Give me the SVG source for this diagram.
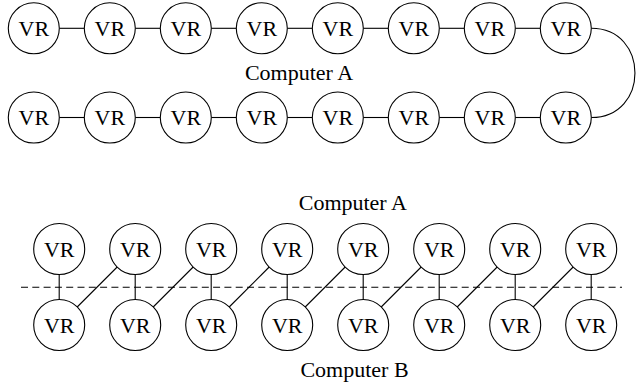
<svg xmlns="http://www.w3.org/2000/svg" width="637" height="385" viewBox="0 0 637 385">
<style>
.n circle{fill:#fff;stroke:#000;stroke-width:1.1}
.c line,.c path{stroke:#000;stroke-width:1.1;fill:none}
</style>
<rect width="637" height="385" fill="#fff"/>
<g id="connectors" class="c">
<line x1="59.3" y1="28.3" x2="84.3" y2="28.3"/>
<line x1="135.3" y1="28.3" x2="160.3" y2="28.3"/>
<line x1="211.3" y1="28.3" x2="236.3" y2="28.3"/>
<line x1="287.3" y1="28.3" x2="312.3" y2="28.3"/>
<line x1="363.3" y1="28.3" x2="388.3" y2="28.3"/>
<line x1="439.3" y1="28.3" x2="464.3" y2="28.3"/>
<line x1="515.3" y1="28.3" x2="540.3" y2="28.3"/>
<line x1="59.3" y1="117.5" x2="84.3" y2="117.5"/>
<line x1="135.3" y1="117.5" x2="160.3" y2="117.5"/>
<line x1="211.3" y1="117.5" x2="236.3" y2="117.5"/>
<line x1="287.3" y1="117.5" x2="312.3" y2="117.5"/>
<line x1="363.3" y1="117.5" x2="388.3" y2="117.5"/>
<line x1="439.3" y1="117.5" x2="464.3" y2="117.5"/>
<line x1="515.3" y1="117.5" x2="540.3" y2="117.5"/>
<path d="M591.3 28.3 C649.5 28.3 649.5 117.5 591.3 117.5"/>
<line x1="21" y1="287.3" x2="622" y2="287.3" stroke-dasharray="7 4.3"/>
<line x1="59.2" y1="274.5" x2="59.2" y2="299.5"/>
<line x1="135.2" y1="274.5" x2="135.2" y2="299.5"/>
<line x1="211.2" y1="274.5" x2="211.2" y2="299.5"/>
<line x1="287.2" y1="274.5" x2="287.2" y2="299.5"/>
<line x1="363.2" y1="274.5" x2="363.2" y2="299.5"/>
<line x1="439.2" y1="274.5" x2="439.2" y2="299.5"/>
<line x1="515.2" y1="274.5" x2="515.2" y2="299.5"/>
<line x1="591.2" y1="274.5" x2="591.2" y2="299.5"/>
<line x1="77.2" y1="307" x2="117.2" y2="267"/>
<line x1="153.2" y1="307" x2="193.2" y2="267"/>
<line x1="229.2" y1="307" x2="269.2" y2="267"/>
<line x1="305.2" y1="307" x2="345.2" y2="267"/>
<line x1="381.2" y1="307" x2="421.2" y2="267"/>
<line x1="457.2" y1="307" x2="497.2" y2="267"/>
<line x1="533.2" y1="307" x2="573.2" y2="267"/>
</g>
<g font-family="Liberation Serif" font-size="22" text-anchor="middle" fill="#000">
<g id="a1" class="n"><circle cx="33.8" cy="28.3" r="25.5"/><text x="33.8" y="35.8">VR</text></g>
<g id="a2" class="n"><circle cx="109.8" cy="28.3" r="25.5"/><text x="109.8" y="35.8">VR</text></g>
<g id="a3" class="n"><circle cx="185.8" cy="28.3" r="25.5"/><text x="185.8" y="35.8">VR</text></g>
<g id="a4" class="n"><circle cx="261.8" cy="28.3" r="25.5"/><text x="261.8" y="35.8">VR</text></g>
<g id="a5" class="n"><circle cx="337.8" cy="28.3" r="25.5"/><text x="337.8" y="35.8">VR</text></g>
<g id="a6" class="n"><circle cx="413.8" cy="28.3" r="25.5"/><text x="413.8" y="35.8">VR</text></g>
<g id="a7" class="n"><circle cx="489.8" cy="28.3" r="25.5"/><text x="489.8" y="35.8">VR</text></g>
<g id="a8" class="n"><circle cx="565.8" cy="28.3" r="25.5"/><text x="565.8" y="35.8">VR</text></g>
<g id="b1" class="n"><circle cx="33.8" cy="117.5" r="25.5"/><text x="33.8" y="125">VR</text></g>
<g id="b2" class="n"><circle cx="109.8" cy="117.5" r="25.5"/><text x="109.8" y="125">VR</text></g>
<g id="b3" class="n"><circle cx="185.8" cy="117.5" r="25.5"/><text x="185.8" y="125">VR</text></g>
<g id="b4" class="n"><circle cx="261.8" cy="117.5" r="25.5"/><text x="261.8" y="125">VR</text></g>
<g id="b5" class="n"><circle cx="337.8" cy="117.5" r="25.5"/><text x="337.8" y="125">VR</text></g>
<g id="b6" class="n"><circle cx="413.8" cy="117.5" r="25.5"/><text x="413.8" y="125">VR</text></g>
<g id="b7" class="n"><circle cx="489.8" cy="117.5" r="25.5"/><text x="489.8" y="125">VR</text></g>
<g id="b8" class="n"><circle cx="565.8" cy="117.5" r="25.5"/><text x="565.8" y="125">VR</text></g>
<g id="c1" class="n"><circle cx="59.2" cy="249" r="25.5"/><text x="59.2" y="256.5">VR</text></g>
<g id="c2" class="n"><circle cx="135.2" cy="249" r="25.5"/><text x="135.2" y="256.5">VR</text></g>
<g id="c3" class="n"><circle cx="211.2" cy="249" r="25.5"/><text x="211.2" y="256.5">VR</text></g>
<g id="c4" class="n"><circle cx="287.2" cy="249" r="25.5"/><text x="287.2" y="256.5">VR</text></g>
<g id="c5" class="n"><circle cx="363.2" cy="249" r="25.5"/><text x="363.2" y="256.5">VR</text></g>
<g id="c6" class="n"><circle cx="439.2" cy="249" r="25.5"/><text x="439.2" y="256.5">VR</text></g>
<g id="c7" class="n"><circle cx="515.2" cy="249" r="25.5"/><text x="515.2" y="256.5">VR</text></g>
<g id="c8" class="n"><circle cx="591.2" cy="249" r="25.5"/><text x="591.2" y="256.5">VR</text></g>
<g id="d1" class="n"><circle cx="59.2" cy="325" r="25.5"/><text x="59.2" y="332.5">VR</text></g>
<g id="d2" class="n"><circle cx="135.2" cy="325" r="25.5"/><text x="135.2" y="332.5">VR</text></g>
<g id="d3" class="n"><circle cx="211.2" cy="325" r="25.5"/><text x="211.2" y="332.5">VR</text></g>
<g id="d4" class="n"><circle cx="287.2" cy="325" r="25.5"/><text x="287.2" y="332.5">VR</text></g>
<g id="d5" class="n"><circle cx="363.2" cy="325" r="25.5"/><text x="363.2" y="332.5">VR</text></g>
<g id="d6" class="n"><circle cx="439.2" cy="325" r="25.5"/><text x="439.2" y="332.5">VR</text></g>
<g id="d7" class="n"><circle cx="515.2" cy="325" r="25.5"/><text x="515.2" y="332.5">VR</text></g>
<g id="d8" class="n"><circle cx="591.2" cy="325" r="25.5"/><text x="591.2" y="332.5">VR</text></g>
<text x="299" y="80">Computer A</text>
<text x="352.8" y="210">Computer A</text>
<text x="354.5" y="376.5">Computer B</text>
</g>
</svg>
